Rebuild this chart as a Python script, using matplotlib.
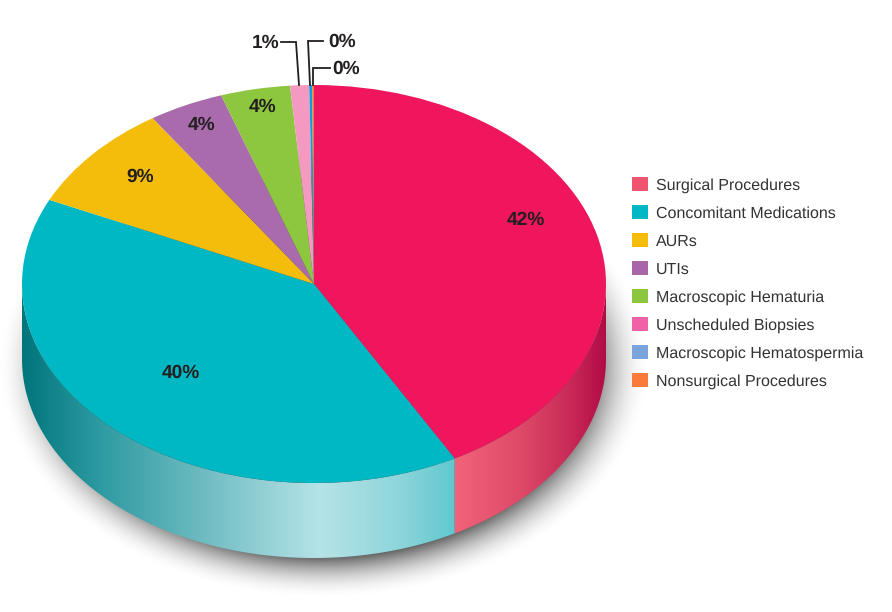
import numpy as np
import matplotlib
matplotlib.use('Agg')
import matplotlib.pyplot as plt
import matplotlib.patches as mpatches
from matplotlib.colors import to_rgb

plt.rcParams['font.family'] = ['Liberation Sans', 'DejaVu Sans']
plt.rcParams['text.hinting'] = 'no_hinting'

categories = ['Surgical Procedures', 'Concomitant Medications', 'AURs', 'UTIs',
              'Macroscopic Hematuria', 'Unscheduled Biopsies',
              'Macroscopic Hematospermia', 'Nonsurgical Procedures']
values = [42.0, 39.95, 8.73, 4.17, 3.84, 1.05, 0.16, 0.10]
pct_labels = ['42%', '40%', '9%', '4%', '4%', '1%', '0%', '0%']
top_colors = ['#ef165d', '#00b8c4', '#f4bd0b', '#aa6bac', '#8dc63f', '#f49ac1', '#0a9ee0', '#f47a3c']
legend_colors = ['#ef5470', '#00b8c4', '#f4bd0b', '#a866a8', '#8dc63f', '#f062a5', '#7aa5dc', '#f97a3a']

# ellipse geometry in pixels
cx, cy, rx, ry, depth = 314, 284, 292, 199, 75

fig = plt.figure(figsize=(8.92, 6.12), dpi=100)
ax = fig.add_axes([0, 0, 1, 1])
ax.axis('off')

# soft drop shadow under the pie
xx, yy = np.meshgrid(np.arange(0, 892), np.arange(0, 612))
rr = np.sqrt(((xx - 323) / 288.0) ** 2 + ((yy - 366) / 205.0) ** 2)
dist = (rr - 1) * 245
shade = np.clip(1 - (dist + 20) / 54, 0, 1) ** 2 * 0.68
rgba = np.zeros((612, 892, 4))
rgba[..., 3] = shade
ax.imshow(rgba, extent=(0, 892, 612, 0), aspect='auto', zorder=1)

# side wall, a horizontal colour ramp clipped to the outline of each slice
wall_ramps = {
    0: ([455, 520, 570, 605], ['#f2637a', '#de4a68', '#c92a58', '#b20c46']),
    1: ([22, 100, 200, 320, 400, 455], ['#00757c', '#2e9aa1', '#6cbac0', '#b6e3e7', '#8dd5da', '#60c8cf']),
}
edges = np.cumsum([0] + values) / sum(values) * 360
for i, (xs, cols) in wall_ramps.items():
    # clockwise from the top, converted to ellipse parameter
    start = max(edges[i] - 90, 0)
    stop = min(edges[i + 1] - 90, 180)
    tt = np.radians(np.linspace(start, stop, 300))
    px = cx + rx * np.cos(tt)
    py = cy + ry * np.sin(tt)
    outline = np.column_stack([np.r_[px, px[::-1]], np.r_[py, py[::-1] + depth]])
    rgb = np.array([to_rgb(c) for c in cols])
    grid = np.arange(0, 892) + 0.5
    ramp = np.stack([np.interp(grid, xs, rgb[:, j]) for j in range(3)], axis=-1)[None, :, :]
    im = ax.imshow(ramp, extent=(0, 892, 612, 0), aspect='auto', zorder=2, interpolation='nearest')
    poly = mpatches.Polygon(outline, closed=True, transform=ax.transData, facecolor='none', edgecolor='none')
    ax.add_patch(poly)
    im.set_clip_path(poly)
ax.set_xlim(0, 892)
ax.set_ylim(612, 0)

# top face, a real pie squashed by giving its axes a different y scale
pie_ax = fig.add_axes([0, 0, 1, 1], facecolor='none', zorder=3)
k = rx / ry
pie_ax.pie(values, colors=top_colors, startangle=90, counterclock=False,
           center=(cx, (612 - cy) * k), radius=rx, frame=False,
           wedgeprops={'linewidth': 0})
pie_ax.set_aspect('auto')
pie_ax.set_xlim(0, 892)
pie_ax.set_ylim(0, 612 * k)
pie_ax.axis('off')

# text overlay in pixel coordinates
top = fig.add_axes([0, 0, 1, 1], facecolor='none', zorder=4)
top.set_xlim(0, 892)
top.set_ylim(612, 0)
top.axis('off')

label_pos = [(526, 220), (181, 373), (140, 177), (202, 125), (263, 107),
             (266, 43), (342, 42), (346, 69)]
for lab, (x, y) in zip(pct_labels, label_pos):
    top.text(x, y, lab, ha='center', va='center', fontsize=13.8, fontweight='bold', color='#231f20')

leaders = [([281, 296, 299], [42, 42, 85]),
           ([323, 308, 310], [41, 41, 85]),
           ([330, 313, 313], [68, 68, 85])]
for lx, ly in leaders:
    top.plot(lx, ly, color='#231f20', lw=1.3, solid_joinstyle='miter')

handles = [mpatches.Patch(facecolor=c, edgecolor='none', label=n) for c, n in zip(legend_colors, categories)]
fs = 11.5
top.legend(handles=handles, loc='upper left', bbox_to_anchor=(632 / 892, 1 - 177 / 612), borderaxespad=0,
           borderpad=0, frameon=False, fontsize=fs, handlelength=11.5 / fs, handleheight=11.5 / fs,
           handletextpad=0.5, labelspacing=0.753, labelcolor='#333333')

plt.savefig('out.png', dpi=100)
